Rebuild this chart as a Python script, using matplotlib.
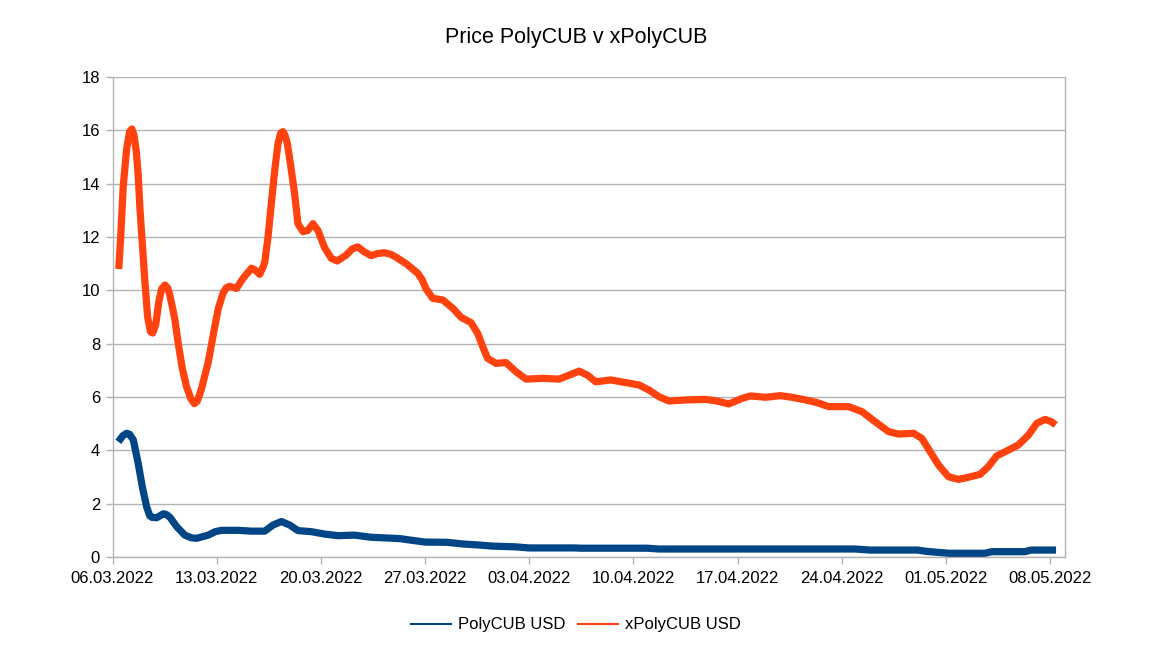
import matplotlib
matplotlib.use("Agg")
import matplotlib.pyplot as plt
import matplotlib.dates as mdates
from matplotlib.lines import Line2D
import numpy as np
import datetime as dt

plt.rcParams['font.family'] = ['Liberation Sans', 'DejaVu Sans']

start_date = dt.datetime(2022, 3, 6)

# xPolyCUB USD: (days since 06.03.2022, price)
x_days = [0.42, 0.55, 0.72, 0.95, 1.15, 1.3, 1.45, 1.6, 1.73, 1.84, 2.0, 2.18, 2.36, 2.55, 2.7,
          2.9, 3.12, 3.3, 3.52, 3.7, 3.86, 4.05, 4.19, 4.42, 4.68, 4.97, 5.25, 5.5, 5.7, 5.98,
          6.2, 6.43, 6.76, 7.1, 7.43, 7.65, 7.88, 8.33, 8.77, 9.34, 9.6, 9.89, 10.1, 10.23, 10.45,
          10.68, 10.9, 11.12, 11.3, 11.46, 11.6, 11.75, 12.02, 12.24, 12.46, 12.8, 13.13, 13.47,
          13.8, 14.25, 14.7, 15.1, 15.7, 16.1, 16.49, 16.9, 17.38, 17.8, 18.28, 18.7, 19.06,
          19.73, 20.51, 20.8, 21.07, 21.52, 22.19, 22.86, 23.42, 24.09, 24.53, 24.87, 25.2,
          25.77, 26.44, 27.11, 27.78, 28.89, 30.01, 30.68, 31.35, 31.91, 32.47, 33.48, 34.49,
          35.38, 36.05, 36.72, 37.39, 38.51, 39.85, 40.52, 41.41, 42.31, 42.87, 43.88, 44.88,
          45.66, 46.56, 47.34, 48.12, 49.46, 50.36, 51.25, 52.15, 52.82, 53.82, 54.38, 54.94,
          55.5, 56.17, 56.84, 57.51, 58.3, 58.85, 59.41, 60.2, 60.86, 61.54, 62.1, 62.66, 63.1,
          63.37]
x_vals = [10.8, 12.0, 13.9, 15.3, 15.95, 16.05, 15.8, 15.2, 14.3, 13.1, 11.8, 10.3, 9.0, 8.45, 8.4,
          8.7, 9.6, 10.05, 10.2, 10.1, 9.8, 9.3, 8.9, 8.0, 7.1, 6.4, 5.95, 5.75, 5.85, 6.3,
          6.8, 7.3, 8.3, 9.3, 9.9, 10.1, 10.15, 10.07, 10.45, 10.83, 10.75, 10.6, 10.85, 11.05, 12.0,
          13.3, 14.5, 15.5, 15.9, 15.95, 15.8, 15.5, 14.5, 13.6, 12.5, 12.2, 12.25, 12.5,
          12.25, 11.6, 11.2, 11.1, 11.32, 11.55, 11.63, 11.45, 11.3, 11.38, 11.41, 11.35, 11.24,
          11.0, 10.64, 10.4, 10.05, 9.7, 9.64, 9.33, 8.99, 8.79, 8.39, 7.9, 7.45,
          7.26, 7.29, 6.95, 6.67, 6.7, 6.67, 6.82, 6.97, 6.82, 6.57, 6.64, 6.54,
          6.45, 6.26, 6.01, 5.85, 5.89, 5.91, 5.86, 5.74, 5.95, 6.04, 5.99, 6.05,
          5.99, 5.89, 5.79, 5.64, 5.64, 5.45, 5.07, 4.7, 4.61, 4.64, 4.45, 3.95,
          3.45, 3.01, 2.91, 2.99, 3.1, 3.39, 3.79, 4.01, 4.2, 4.57, 5.01, 5.16, 5.07,
          4.95]

# PolyCUB USD
p_days = [0.39, 0.7, 0.95, 1.15, 1.4, 1.73, 2.0, 2.29, 2.5, 2.63, 2.96, 3.41, 3.6, 3.86, 4.31,
          4.86, 5.3, 5.65, 6.43, 6.9, 7.32, 8.44, 9.34, 10.23, 10.79, 11.35, 11.9, 12.46, 13.36,
          14.25, 15.15, 16.26, 17.38, 19.3, 20.2, 21.0, 22.5, 23.5, 24.6, 25.5, 27.1, 28.0,
          31.0, 31.5, 35.9, 36.7, 49.9, 50.9, 54.1, 54.7, 55.8, 56.2, 58.6, 59.1, 61.3, 61.7, 63.4]
p_vals = [4.32, 4.55, 4.64, 4.6, 4.39, 3.5, 2.64, 1.89, 1.55, 1.49, 1.47, 1.62, 1.6, 1.49, 1.14,
          0.82, 0.72, 0.7, 0.82, 0.95, 1.0, 1.0, 0.97, 0.97, 1.2, 1.33, 1.2, 0.99, 0.95,
          0.86, 0.8, 0.82, 0.74, 0.69, 0.62, 0.56, 0.55, 0.49, 0.45, 0.41, 0.38, 0.34,
          0.34, 0.33, 0.33, 0.3, 0.3, 0.26, 0.26, 0.21, 0.16, 0.14, 0.14, 0.2, 0.2, 0.26, 0.26]

y_ticks = [0, 2, 4, 6, 8, 10, 12, 14, 16, 18]
x_tick_labels = ['06.03.2022', '13.03.2022', '20.03.2022', '27.03.2022', '03.04.2022',
                 '10.04.2022', '17.04.2022', '24.04.2022', '01.05.2022', '08.05.2022']

title = 'Price PolyCUB v xPolyCUB'
series_names = ['PolyCUB USD', 'xPolyCUB USD']
colors = ['#004586', '#ff420e']

def to_dates(days):
    return [start_date + dt.timedelta(days=d) for d in days]

fig = plt.figure(figsize=(11.52, 6.48), dpi=100)
ax = fig.add_axes([112.5 / 1152, 1 - 557 / 648, (1065 - 112.5) / 1152, 480 / 648])

ax.plot(to_dates(p_days), p_vals, color=colors[0], lw=5.2, solid_capstyle='butt', zorder=3)
ax.plot(to_dates(x_days), x_vals, color=colors[1], lw=5.2, solid_capstyle='butt', zorder=3)

ax.set_ylim(0, 18)
ax.set_yticks(y_ticks)
ax.set_xlim(start_date, start_date + dt.timedelta(days=64))
tick_dates = [dt.datetime.strptime(s, '%d.%m.%Y') for s in x_tick_labels]
ax.set_xticks(tick_dates)
ax.set_xticklabels(x_tick_labels)

grid_c = '#b3b3b3'
ax.grid(axis='y', color=grid_c, lw=1.0, zorder=0)
for s in ['left', 'bottom', 'right']:
    ax.spines[s].set_color(grid_c)
    ax.spines[s].set_linewidth(1.0)
ax.spines['top'].set_visible(False)
ax.tick_params(axis='both', direction='out', length=5, width=1.0, color=grid_c,
               labelsize=12, labelcolor='black', pad=4)
ax.tick_params(axis='x', pad=5)

fig.text(0.5, 1 - 38 / 648, title, ha='center', va='center', fontsize=15.5)

handles = [Line2D([0], [0], color=colors[0], lw=1.5),
           Line2D([0], [0], color=colors[1], lw=1.5)]
fig.legend(handles, series_names, loc='center', bbox_to_anchor=(0.5, 1 - 625 / 648),
           ncol=2, frameon=False, fontsize=12, handlelength=2.4, handletextpad=0.4,
           columnspacing=0.8)

fig.savefig('out.png', dpi=100)
